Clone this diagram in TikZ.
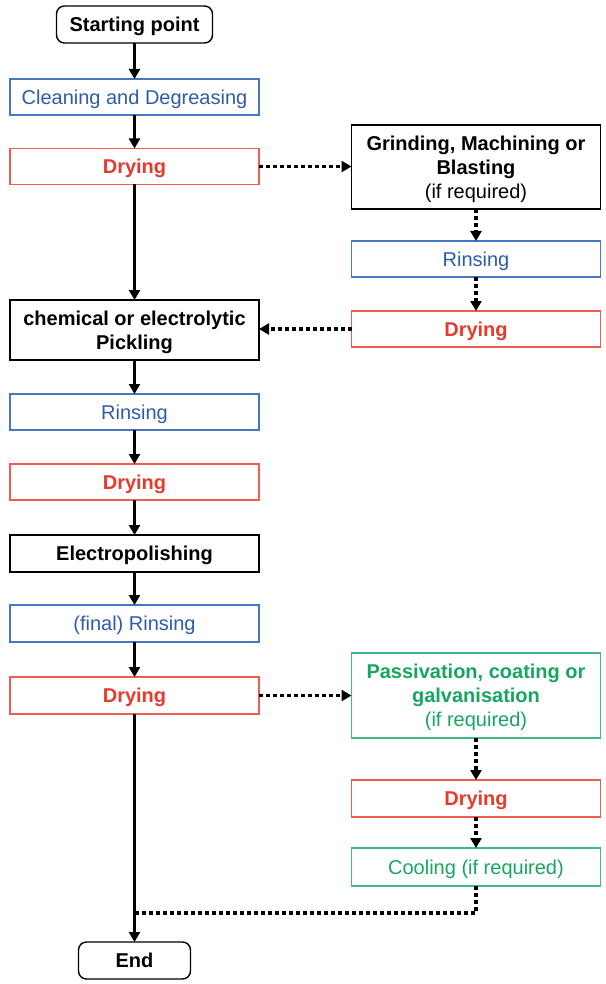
\documentclass[tikz,border=0pt]{standalone}
\usepackage{fontspec}
\setmainfont{Liberation Sans}
\usetikzlibrary{arrows.meta}

\definecolor{stepblue}{RGB}{46,92,168}
\definecolor{stepblueline}{RGB}{72,118,192}
\definecolor{stepred}{RGB}{234,56,42}
\definecolor{stepredline}{RGB}{240,92,80}
\definecolor{stepgreen}{RGB}{22,166,96}
\definecolor{stepgreenline}{RGB}{62,188,130}

\begin{document}
\begin{tikzpicture}[x=0.5pt, y=-0.5pt, font=\fontsize{10}{12}\selectfont, every node/.style={minimum width=124.5pt, minimum height=18pt, outer sep=0pt, inner sep=0pt, text depth=0pt, align=center, line width=0.7pt}, line join=miter,
	blackbox/.style={draw=black},
	bluebox/.style={draw=stepblueline, text=stepblue},
	redbox/.style={draw=stepredline, text=stepred},
	greenbox/.style={draw=stepgreenline, text=stepgreen},
	endbox/.style={draw=black, rounded corners=4pt, minimum height=18.5pt},
	mainarrow/.style={->, >={Triangle[length=5pt, width=5.5pt]}, line width=1.9pt},
	optarrow/.style={mainarrow, dash pattern=on 1.9pt off 1.6pt},
	optline/.style={line width=1.9pt, dash pattern=on 1.9pt off 1.6pt}]
	\useasboundingbox (0,0) rectangle (605,984);

	% main route
	\node[endbox, minimum width=78pt] (start) at (134.5,24.5) {\textbf{Starting point}};
	\node[bluebox] (clean) at (134.5,97) {Cleaning and Degreasing};
	\node[redbox] (dryA) at (134.5,166.5) {\textbf{Drying}};
	\node[blackbox, minimum height=30pt] (pickle) at (134.5,330) {\textbf{chemical or electrolytic}\\\textbf{Pickling}};
	\node[bluebox] (rinseA) at (134.5,412) {Rinsing};
	\node[redbox] (dryB) at (134.5,482) {\textbf{Drying}};
	\node[blackbox, minimum height=18.5pt] (polish) at (134.5,553.5) {\textbf{Electropolishing}};
	\node[bluebox, minimum height=18.5pt] (rinseB) at (134.5,623.5) {(final) Rinsing};
	\node[redbox, minimum height=18.5pt] (dryC) at (134.5,695.5) {\textbf{Drying}};
	\node[endbox, minimum width=56pt] (finish) at (134.5,960.5) {\textbf{End}};

	% grinding branch
	\node[blackbox, minimum height=42pt] (grind) at (476,167) {\textbf{Grinding, Machining or}\\\textbf{Blasting}\\(if required)};
	\node[bluebox] (rinseG) at (476,259) {Rinsing};
	\node[redbox] (dryG) at (476,329) {\textbf{Drying}};

	% passivation branch
	\node[greenbox, minimum height=42.5pt] (passiv) at (476,695.5) {\textbf{Passivation, coating or}\\\textbf{galvanisation}\\(if required)};
	\node[redbox, minimum height=18.5pt] (dryP) at (476,798.5) {\textbf{Drying}};
	\node[greenbox, minimum height=19pt] (cool) at (476,867) {Cooling (if required)};
	\coordinate (join) at (134.5,913);

	\draw[mainarrow] (start) -- (clean);
	\draw[mainarrow] (clean) -- (dryA);
	\draw[mainarrow] (dryA) -- (pickle);
	\draw[mainarrow] (pickle) -- (rinseA);
	\draw[mainarrow] (rinseA) -- (dryB);
	\draw[mainarrow] (dryB) -- (polish);
	\draw[mainarrow] (polish) -- (rinseB);
	\draw[mainarrow] (rinseB) -- (dryC);
	\draw[mainarrow] (dryC) -- (finish);

	\draw[optarrow] (dryA.east) -- (dryA.east -| grind.west);
	\draw[optarrow] (grind) -- (rinseG);
	\draw[optarrow] (rinseG) -- (dryG);
	\draw[optarrow] (dryG.west) -- (dryG.west -| pickle.east);
	\draw[optarrow] (dryC.east) -- (dryC.east -| passiv.west);
	\draw[optarrow] (passiv) -- (dryP);
	\draw[optarrow] (dryP) -- (cool);
	\draw[optline] (cool) |- (join);
\end{tikzpicture}
\end{document}
